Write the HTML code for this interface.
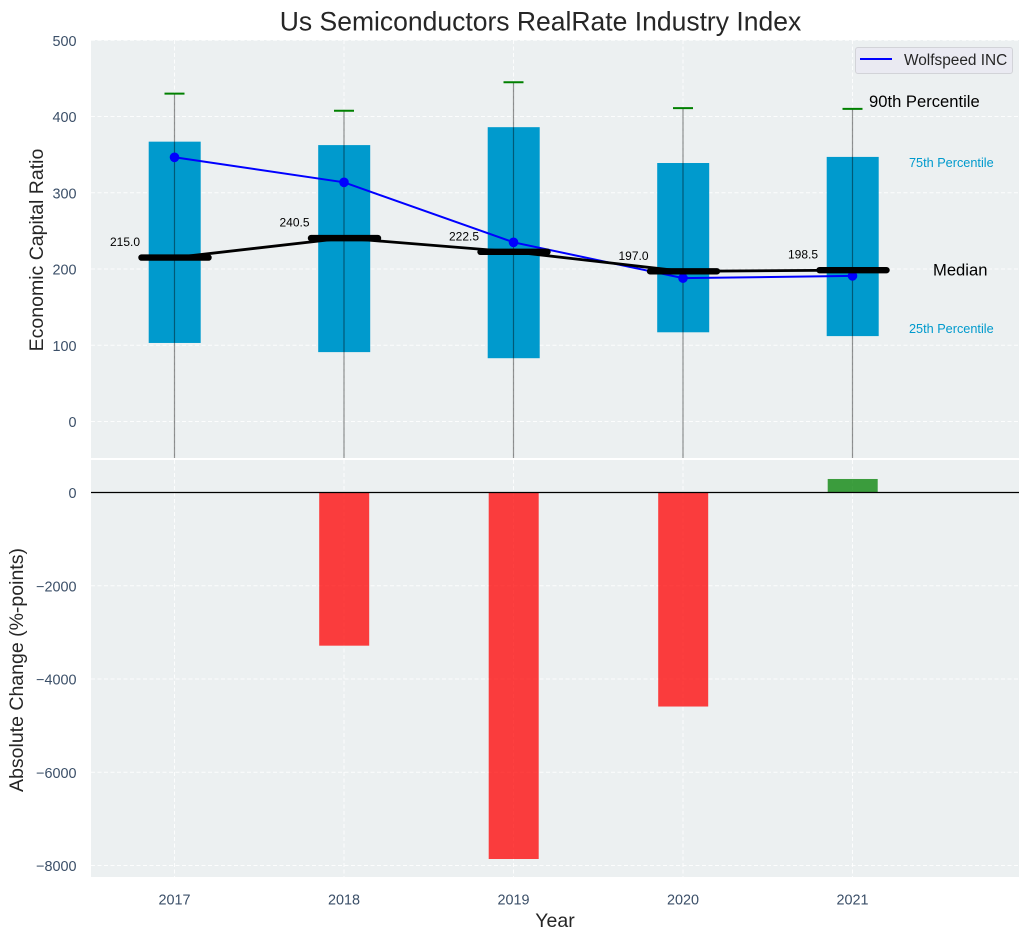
<!DOCTYPE html>
<html lang="en">
<head>
<meta charset="utf-8">
<title>Us Semiconductors RealRate Industry Index</title>
<style>
html,body{margin:0;padding:0;background:#fff;}
svg{display:block;font-family:"Liberation Sans",Arial,sans-serif;}
</style>
</head>
<body>
<svg id="chart" xmlns="http://www.w3.org/2000/svg" width="1029" height="940" viewBox="0 0 1029 940">
<defs>
<clipPath id="clip-top"><rect x="91" y="40" width="928" height="418"/></clipPath>
<clipPath id="clip-bottom"><rect x="91" y="460" width="928" height="417"/></clipPath>
</defs>
<rect x="91" y="40" width="928" height="418" fill="#ecf0f1"/>
<rect x="91" y="460" width="928" height="417" fill="#ecf0f1"/>
<g id="grid"></g>
<g id="top-marks" clip-path="url(#clip-top)"></g>
<g id="bottom-marks" clip-path="url(#clip-bottom)"></g>
<g id="labels"></g>
<g id="ticks"></g>
<text x="540.5" y="30.5" text-anchor="middle" font-size="26.5" fill="#262626">Us Semiconductors RealRate Industry Index</text>
<text transform="translate(43,250) rotate(-90)" text-anchor="middle" font-size="19.5" fill="#262626">Economic Capital Ratio</text>
<text transform="translate(23,670) rotate(-90)" text-anchor="middle" font-size="19.5" fill="#262626">Absolute Change (%-points)</text>
<text x="555" y="927" text-anchor="middle" font-size="19.5" fill="#262626">Year</text>
<g>
<rect x="855.5" y="47.5" width="157" height="26" rx="2.5" fill="#eaeaf2" stroke="#d2d3d8" stroke-width="1"/>
<line x1="860" y1="59" x2="892" y2="59" stroke="#0000ff" stroke-width="2"/>
<text x="904" y="65" font-size="15.4" fill="#262626">Wolfspeed INC</text>
</g>
</svg>
<script>
const years = [2017, 2018, 2019, 2020, 2021];
const p90 = [430, 407.6, 445, 411, 410];
const p75 = [367, 362.5, 386, 339, 347];
const medians = [215, 240.5, 222.5, 197, 198.5];
const p25 = [103, 91, 83, 117, 112];
const p10 = [-70, -80, -85, -75, -75];
const company = [346.5, 313.7, 235, 188, 191];
const changes = [0, -3285, -7860, -4590, 290];
const topTicks = [0, 100, 200, 300, 400, 500];
const bottomTicks = [0, -2000, -4000, -6000, -8000];

const NS = 'http://www.w3.org/2000/svg';
const xScale = y => 174.5 + (y - 2017) * 169.5;
const yTop = v => 421.5 - v * 0.7625;
const yBottom = v => 492.5 - v * 0.04663;
const fmt = v => String(v).replace('-', '\u2212');

function make(parent, tag, attrs, text) {
  const el = document.createElementNS(NS, tag);
  for (const k in attrs) el.setAttribute(k, attrs[k]);
  if (text !== undefined) el.textContent = text;
  parent.appendChild(el);
  return el;
}

const gridG = document.getElementById('grid');
const topG = document.getElementById('top-marks');
const botG = document.getElementById('bottom-marks');
const labelG = document.getElementById('labels');
const tickG = document.getElementById('ticks');
const gridStyle = {stroke: '#ffffff', 'stroke-width': 1, 'stroke-dasharray': '4 2.5', 'stroke-opacity': 0.85};

topTicks.forEach(t => {
  const ln = make(gridG, 'line', Object.assign({x1: 91, x2: 1019, y1: yTop(t), y2: yTop(t)}, gridStyle));
  
  
  const tx = make(tickG, 'text', {x: 76.5, y: yTop(t) + 5.5, 'text-anchor': 'end', 'font-size': 14.4, fill: '#3b4f68'}, fmt(t));
  
  
});
bottomTicks.forEach(t => {
  const ln = make(gridG, 'line', Object.assign({x1: 91, x2: 1019, y1: yBottom(t), y2: yBottom(t)}, gridStyle));
  
  
  const tx = make(tickG, 'text', {x: 76.5, y: yBottom(t) + 5.5, 'text-anchor': 'end', 'font-size': 14.4, fill: '#3b4f68'}, fmt(t));
  
  
});
years.forEach(y => {
  const a = make(gridG, 'line', Object.assign({x1: xScale(y), x2: xScale(y), y1: 40, y2: 458}, gridStyle));
  
  
  const b = make(gridG, 'line', Object.assign({x1: xScale(y), x2: xScale(y), y1: 460, y2: 877}, gridStyle));
  
  
  const tx = make(tickG, 'text', {x: xScale(y), y: 904.5, 'text-anchor': 'middle', 'font-size': 14.4, fill: '#3b4f68'}, y);
  
  
});

years.forEach((y, i) => {
  const cx = xScale(y);
  const box = make(topG, 'rect', {x: cx - 25.8, y: yTop(p75[i]), width: 52, height: yTop(p25[i]) - yTop(p75[i]), fill: '#009acd'});
  
  
  const whisk = make(topG, 'line', {x1: cx, x2: cx, y1: yTop(p90[i]), y2: yTop(p10[i]), stroke: '#000', 'stroke-opacity': 0.42, 'stroke-width': 1.2});
  
  
  const cap = make(topG, 'line', {x1: cx - 10, x2: cx + 10, y1: yTop(p90[i]), y2: yTop(p90[i]), stroke: '#008000', 'stroke-width': 2});
  
  
});

const companyPts = years.map((y, i) => xScale(y) + ',' + yTop(company[i])).join(' ');
const companyLine = make(topG, 'polyline', {points: companyPts, fill: 'none', stroke: '#0000ff', 'stroke-width': 2});


years.forEach((y, i) => {
  const pt = make(topG, 'circle', {cx: xScale(y), cy: yTop(company[i]), r: 4.8, fill: '#0000ff'});
  
  
});

const medianPts = years.map((y, i) => xScale(y) + ',' + yTop(medians[i])).join(' ');
const medianLine = make(topG, 'polyline', {points: medianPts, fill: 'none', stroke: '#000', 'stroke-width': 2.8});


years.forEach((y, i) => {
  const cx = xScale(y);
  const bar = make(topG, 'line', {x1: cx - 33, x2: cx + 34, y1: yTop(medians[i]), y2: yTop(medians[i]), stroke: '#000', 'stroke-width': 6.4, 'stroke-linecap': 'round'});
  
  
  const tx = make(labelG, 'text', {x: cx - 34.5, y: yTop(medians[i]) - 11.5, 'text-anchor': 'end', 'font-size': 12, fill: '#000'}, medians[i].toFixed(1));
  
  
});

years.forEach((y, i) => {
  if (changes[i] === 0) return;
  const y0 = Math.min(yBottom(0), yBottom(changes[i]));
  const h = Math.abs(yBottom(changes[i]) - yBottom(0));
  const bar = make(botG, 'rect', {x: xScale(y) - 24.8, y: y0, width: 50, height: h, fill: changes[i] < 0 ? '#ff0000' : '#008000', 'fill-opacity': 0.75});
  
  
});
const zero = make(botG, 'line', {x1: 91, x2: 1019, y1: yBottom(0), y2: yBottom(0), stroke: '#000', 'stroke-width': 1.2});



const last = years.length - 1;
const p90Label = make(labelG, 'text', {x: 869, y: yTop(p90[last]) - 2, 'font-size': 16.6, fill: '#000'}, '90th Percentile');


const p75Label = make(labelG, 'text', {x: 909, y: yTop(p75[last]) + 10, 'font-size': 12.7, fill: '#009acd'}, '75th Percentile');


const medLabel = make(labelG, 'text', {x: 933, y: yTop(medians[last]) + 5.5, 'font-size': 16.6, fill: '#000'}, 'Median');


const p25Label = make(labelG, 'text', {x: 909, y: yTop(p25[last]) - 3, 'font-size': 12.7, fill: '#009acd'}, '25th Percentile');


</script>
</body>
</html>
